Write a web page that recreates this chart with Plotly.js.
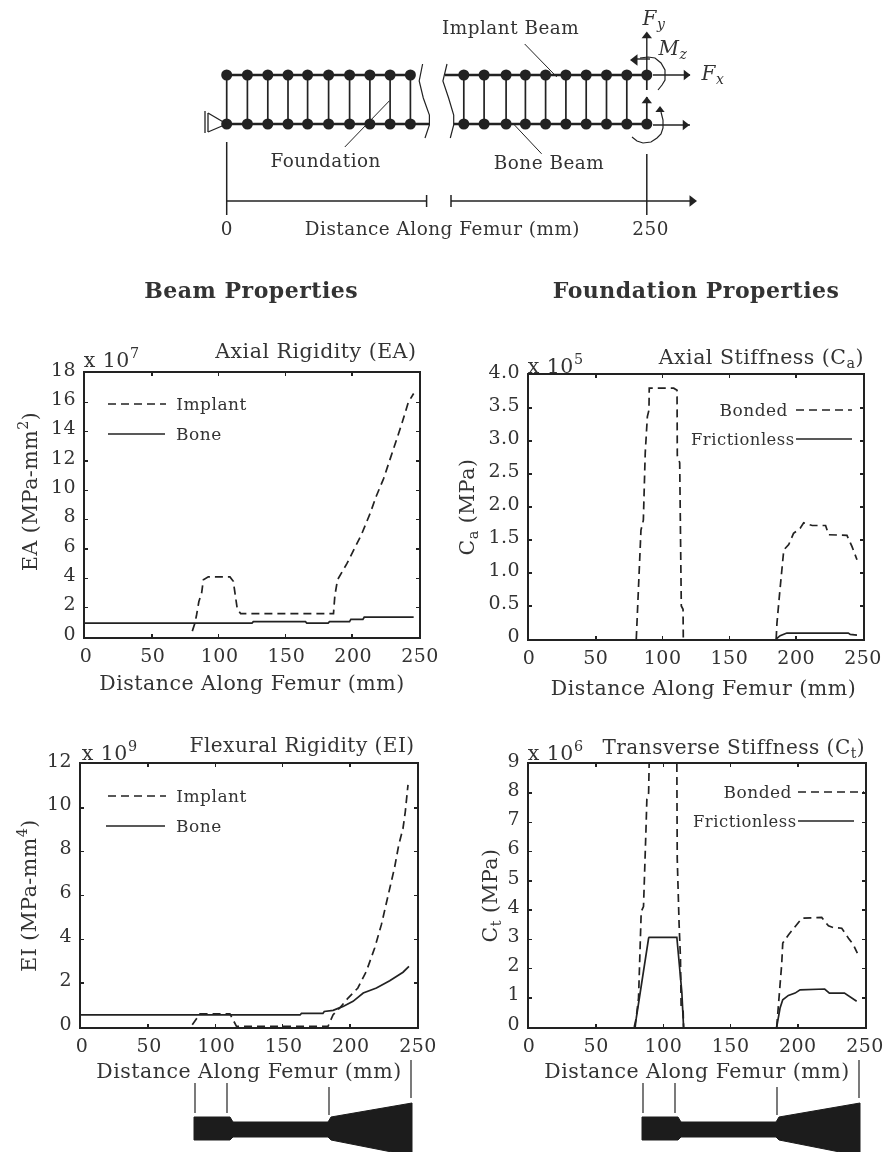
<!DOCTYPE html>
<html><head><meta charset="utf-8">
<script src="https://cdn.plot.ly/plotly-3.0.1.min.js"></script>
<style>
html,body{margin:0;padding:0;background:#fff}
#plot{width:884px;height:1152px;filter:blur(0.5px)}
#plot text{letter-spacing:.5px}
</style></head><body><div id="plot"></div>
<script>
// ---------- chart values ----------
const eaImplantX=[80.3,82.3,83.5,85.2,87.3,88.6,92.3,108.5,111,112.3,114,116.5,186,187,189,196,201,207,213.5,218,223.5,228.5,233,237,242,246];
const eaImplantY=[0.4,0.95,1.5,2.4,3.0,3.9,4.1,4.1,3.8,2.8,1.9,1.6,1.6,2.8,3.9,5.0,5.9,7.0,8.45,9.6,10.8,12.1,13.4,14.5,16,16.6];
const eaBoneX=[0,125,126,165,166,182,183,198,199,208,209,246];
const eaBoneY=[0.95,0.95,1.05,1.05,0.95,0.95,1.05,1.05,1.2,1.2,1.35,1.35];

const caBondedX=[80.3,81.6,82.6,83.8,85.6,87,88.6,89.8,90,108.3,110.8,111,112.8,114,115.3,115.5,null,185,185.6,187.4,189.4,190.7,194.4,198,203,205.6,212,222,224.3,238,241.8,245.5];
const caBondedY=[0,0.65,1.15,1.65,1.8,2.82,3.37,3.47,3.8,3.8,3.77,2.78,2.67,0.5,0.45,0,null,0,0.24,0.65,1.15,1.35,1.43,1.6,1.68,1.76,1.72,1.72,1.58,1.57,1.4,1.2];
const caFrictionlessX=[185,188,193,239,240.5,245.5];
const caFrictionlessY=[0,0.05,0.09,0.09,0.07,0.06];

const eiImplantX=[82.8,86,88.5,110.8,113,115.7,120.7,183.8,187.6,192.5,198.7,206,212.3,218.5,223.5,228.4,233.4,236.4,239.6,241.3,243.3];
const eiImplantY=[0.1,0.4,0.6,0.6,0.33,0.03,0.03,0.03,0.56,0.87,1.32,1.78,2.54,3.6,4.67,6.03,7.3,8.3,9.07,9.83,11.05];
const eiBoneX=[0,163,164,180,181,187.6,195,202.4,210,219.8,229.7,239.6,244];
const eiBoneY=[0.55,0.55,0.62,0.62,0.71,0.76,0.94,1.17,1.55,1.78,2.11,2.5,2.77];

const ctBondedX=[79,81.5,83.5,85.2,87,87.7,89,89.4,null,110,110.3,111.7,112.7,113.2,114.7,115,null,184.3,185.6,186.8,188,188.8,193,198,203,217.8,222.8,226.5,232.7,237.7,241.4,244.3];
const ctBondedY=[0,1,3.95,4.12,6.7,7.8,8,9,null,9,5.77,3.5,2.36,0.65,0.53,0,null,0,0.65,1.45,2.13,2.87,3.15,3.44,3.72,3.75,3.46,3.4,3.38,3.04,2.81,2.53];
const ctFrictionlessX=[78.3,79.8,89,89.4,110,113.7,115,null,184.3,186.8,188.8,193,198,201.7,220,223.5,234.7,238.4,243.8];
const ctFrictionlessY=[0,0.3,3.04,3.07,3.07,1.2,0,null,0,0.65,0.93,1.08,1.16,1.27,1.3,1.16,1.16,1.05,0.88];

const xTicks=[0,50,100,150,200,250];
const eaTicks=[0,2,4,6,8,10,12,14,16,18];
const caTicks=[0,0.5,1,1.5,2,2.5,3,3.5,4];
const caTickText=['0','0.5','1.0','1.5','2.0','2.5','3.0','3.5','4.0'];
const eiTicks=[0,2,4,6,8,10,12];
const ctTicks=[0,1,2,3,4,5,6,7,8,9];
const xLabel='Distance Along Femur (mm)';

// ---------- schematic (page pixel frame) ----------
const leftNodes=[226.7,247.4,267.8,288,307.6,328.6,349.6,369.9,390.1,410.4];
const rightNodes=[463.8,484.1,506.1,525.4,545.6,565.9,586.2,606.5,626.8,646.8];
const topBeamY=75, boneBeamY=124;
const femurPolyX=[194,230,233,328,331,412,412,331,328,233,230,194,194];
const femurPolyY=[1117,1117,1122,1122,1117,1103,1156,1140,1137,1137,1140,1140,1117];
const femurLeaderX=[195,227,329,411];
const femurLeaderTop=[1083,1083,1087,1060];
const femurLeaderBottom=[1113,1113,1115,1098];

// ---------- styles ----------
const INK='#222', TXT='#333', FONT='"DejaVu Serif", serif';
const W=884,H=1152;
const traces=[];
function curve(x,y,n,dash,width){traces.push({x,y,xaxis:'x'+n,yaxis:'y'+n,type:'scatter',mode:'lines',
  connectgaps:false,hoverinfo:'skip',showlegend:false,line:{color:INK,width:width||1.7,dash:dash||'solid',shape:'linear'}});}
const DASH='8px,5px';
curve(eaImplantX,eaImplantY,1,DASH); curve(eaBoneX,eaBoneY,1);
curve(caBondedX,caBondedY,2,DASH); curve(caFrictionlessX,caFrictionlessY,2);
curve(eiImplantX,eiImplantY,3,DASH); curve(eiBoneX,eiBoneY,3);
curve(ctBondedX,ctBondedY,4,DASH); curve(ctFrictionlessX,ctFrictionlessY,4);

function page(x,y,width,dash){curve(x,y,5,dash,width);}
function segs(list,width){const x=[],y=[];list.forEach(s=>{for(let i=0;i<s.length;i+=2){x.push(s[i]);y.push(s[i+1]);}x.push(null);y.push(null);});page(x,y,width);}
function marks(x,y,symbol,size){traces.push({x,y,xaxis:'x5',yaxis:'y5',type:'scatter',mode:'markers',hoverinfo:'skip',showlegend:false,
  marker:{symbol,size,color:INK,line:{width:0}}});}

// beams
segs([[226.7,topBeamY,411,topBeamY],[226.7,boneBeamY,430,boneBeamY],[445,topBeamY,647,topBeamY],[453.7,boneBeamY,647,boneBeamY]],2.6);
// foundation springs
segs(leftNodes.map(x=>[x,topBeamY,x,boneBeamY]).concat(rightNodes.slice(0,-1).map(x=>[x,topBeamY,x,boneBeamY])),1.7);
segs([[646.8,topBeamY,646.8,90],[646.8,97,646.8,boneBeamY]],1.7);
marks(leftNodes.concat(rightNodes),leftNodes.map(()=>topBeamY).concat(rightNodes.map(()=>topBeamY)),'circle',11);
marks(leftNodes.concat(rightNodes),leftNodes.map(()=>boneBeamY).concat(rightNodes.map(()=>boneBeamY)),'circle',11);
// breaks
page([422.6,419.2,423.3,429.4,429.4,425],[64,81,98,115,125,138],1.2);
page([447,442.9,448.6,453.7,453.7,450.3],[64,81,98,115,125,138],1.2);
// support
segs([[226.7,124,208,113],[226.7,124,208,132],[208,113,208,132],[205,111,205,133]],1.3);
// dimension line
segs([[226.7,142,226.7,215],[646.8,154,646.8,215],[226.7,201,426.6,201],[426.6,195,426.6,207],[451,201,692,201],[451,195,451,207]],1.5);
marks([692],[201],'triangle-right',10);
// leaders
segs([[524.7,44,556.8,77],[344.8,147,389.5,100.7],[541.6,153.8,514.5,125]],1);
// forces
segs([[646.8,75,646.8,33],[653,75,690,75],[653,125,690,125],[634,59,650,59]],1.4);
marks([646.8,646.8],[36,101],'triangle-up',9);
marks([686,685],[75,125],'triangle-right',9);
marks([635],[60],'triangle-left',10);
// moments
page([640,648,655,661,665,665,662,658],[58,57,58,63,70,80,85,90],1.2);
page([632,637,643,651,657,661,663,663,661],[137,141,143,142,138,134,128,120,112],1.2);
marks([660],[110],'triangle-up',8);
// femur profiles
[0,448].forEach(dx=>{
  traces.push({x:femurPolyX.map(v=>v+dx),y:femurPolyY,xaxis:'x5',yaxis:'y5',type:'scatter',mode:'lines',fill:'toself',fillcolor:'#1c1c1c',
    line:{color:'#1c1c1c',width:1},hoverinfo:'skip',showlegend:false});
  segs(femurLeaderX.map((v,i)=>[v+dx,femurLeaderTop[i],v+dx,femurLeaderBottom[i]]),1.2);
});
// legend keys
page([108,166],[404,404],1.7,DASH); page([108,165],[434,434],1.7);
page([796,852],[410,410],1.7,DASH); page([796,852],[439,439],1.7);
page([108,166],[796,796],1.7,DASH); page([106,165],[826,826],1.7);
page([798,864],[792,792],1.7,DASH); page([798,854],[821,821],1.7);

function axisPair(x0,x1,y0,y1,ticks,text,ytitle,xtitle,xstand,ystand,xshift){
  const f={family:FONT,size:19,color:TXT}, tf={family:FONT,size:20.5,color:TXT};
  const common={ticks:'inside',ticklen:3,tickwidth:1.5,tickcolor:INK,showline:true,linewidth:2,linecolor:INK,mirror:'ticks',
    zeroline:false,showgrid:false,tickfont:f,automargin:false};
  return [Object.assign({domain:[x0/W,x1/W],range:[0,250],tickvals:xTicks,ticktext:xTicks.map(String),ticklabelshift:xshift,
      title:{text:xtitle,font:tf,standoff:xstand}},common),
    Object.assign({domain:[1-y1/H,1-y0/H],range:[ticks[0],ticks[ticks.length-1]],tickvals:ticks,ticktext:text||ticks.map(String),
      ticklabelshift:-4,ticklabelstandoff:3,title:{text:ytitle,font:tf,standoff:ystand}},common)];
}
const layout={width:W,height:H,margin:{l:0,r:0,t:0,b:0},paper_bgcolor:'#fff',plot_bgcolor:'rgba(0,0,0,0)',showlegend:false,
  font:{family:FONT,size:18,color:TXT},
  xaxis5:{domain:[0,1],range:[0,W],visible:false,anchor:'y5',fixedrange:true},
  yaxis5:{domain:[0,1],range:[H,0],visible:false,anchor:'x5',fixedrange:true},annotations:[]};
function setAxes(n,p){layout['xaxis'+n]=Object.assign(p[0],{anchor:'y'+n});layout['yaxis'+n]=Object.assign(p[1],{anchor:'x'+n});}
setAxes(1,axisPair(85,419,373,637,eaTicks,null,'',xLabel,11,14,1));
setAxes(2,axisPair(529,863,375,639,caTicks,caTickText,'C<sub>a</sub> (MPa)','',14,10,0));
setAxes(3,axisPair(81,417,764,1027,eiTicks,null,'EI (MPa-mm<sup>4</sup>)',xLabel,9,6,1));
setAxes(4,axisPair(529,865,764,1027,ctTicks,null,'C<sub>t</sub> (MPa)',xLabel,9,5,0));

function label(text,x,y,size,anchor,extra){layout.annotations.push(Object.assign({text,x,y,xref:'x5',yref:'y5',xanchor:anchor||'center',yanchor:'middle',
  showarrow:false,font:{family:FONT,size:size||17,color:TXT}},extra||{}));}
label('Implant Beam',510,27,18.4); label('Foundation',326,160,18.4); label('Bone Beam',549,162,18.4);
label('0',227,228,18.4); label('Distance Along Femur (mm)',442,228,18.4); label('250',650,228,18.4);
label('<i>F<sub>y</sub></i>',654,19,20); label('<i>M<sub>z</sub></i>',672,49,20); label('<i>F<sub>x</sub></i>',712,74,20);
label('<b>Beam Properties</b>',251,290,22); label('<b>Foundation Properties</b>',696,290,22);
label('EA (MPa-mm<sup>2</sup>)',28,492,20.5,'center',{textangle:-90});
label(xLabel,703,688,20.5);
label('x 10<sup>7</sup>',83,358,20.5,'left'); label('x 10<sup>5</sup>',527,364,20.5,'left');
label('x 10<sup>9</sup>',81,751,20.5,'left'); label('x 10<sup>6</sup>',527,751,20.5,'left');
label('Axial Rigidity (EA)',414,351,20.5,'right'); label('Axial Stiffness (C<sub>a</sub>)',861,358,20.5,'right');
label('Flexural Rigidity (EI)',411,745,20,'right'); label('Transverse Stiffness (C<sub>t</sub>)',861,748,20,'right');
label('Implant',176,404,17,'left'); label('Bone',175,434,17,'left');
label('Bonded',789,410,17,'right'); label('Frictionless',794,439,16.4,'right');
label('Implant',176,796,17,'left'); label('Bone',175,826,17,'left');
label('Bonded',793,792,17,'right'); label('Frictionless',796,821,16.4,'right');

Plotly.newPlot('plot',traces,layout,{staticPlot:true,displayModeBar:false});
</script></body></html>
